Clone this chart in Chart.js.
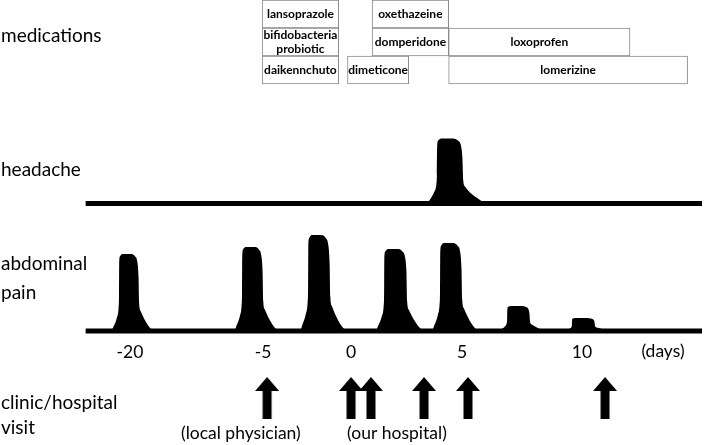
<!DOCTYPE html>
<html>
<head>
<meta charset="utf-8">
<script src="https://cdn.jsdelivr.net/npm/chart.js@4.4.1/dist/chart.umd.min.js"></script>
<style>
html, body { margin: 0; padding: 0; background: #fff; }
</style>
</head>
<body>
<canvas id="timeline" width="708" height="445"></canvas>
<script>
// day axis (day 0 = first visit to our hospital); the figure is not to scale
var tickDays = [-20, -5, 0, 5, 10];
var tickLabels = ['-20', '-5', '0', '5', '10'];
var dayRange = [-25, 15];

// medications: name, first day, last day, row (0 = top)
var medNames = ['lansoprazole', 'bifidobacteria\nprobiotic', 'daikennchuto', 'oxethazeine', 'domperidone', 'dimeticone', 'loxoprofen', 'lomerizine'];
var medStart = [-5.1, -5.1, -5.1, 0.95, 0.95, -0.2, 4.4, 4.4];
var medEnd = [-0.7, -0.7, -0.7, 4.4, 4.4, 2.6, 12.0, 14.4];
var medRow = [0, 1, 2, 0, 1, 2, 1, 2];

// headache episodes: onset, end, severity (arbitrary units)
var headacheOnset = [3.87];
var headacheEnd = [5.04];
var headacheLevel = [6.5];

// abdominal pain episodes
var painOnset = [-21.24, -7.37, -2.44, 1.49, 4.01, 6.88, 9.58];
var painEnd = [-18.99, -5.0, -1.19, 2.52, 5.0, 7.83, 10.54];
var painLevel = [7.7, 8.4, 9.6, 8.2, 8.8, 2.5, 1.3];

// clinic / hospital visits
var visitDays = [-4.77, 0, 0.9, 3.29, 5.25, 10.96];
var visitNotes = ['(local physician)', '(our hospital)'];
var visitNoteDays = [-7.5, 2.07];

var rowTitles = ['medications', 'headache', 'abdominal\npain', 'clinic/hospital\nvisit'];

// ---- layout ----
// where each tick day sits across the width (the original axis is broken)
var TICK_POS = [0.1836, 0.3715, 0.4958, 0.6525, 0.822];
// text baseline of each line of the row titles
var TITLE_BASELINE = [[42], [176], [270, 299], [409, 434]];
// outline of one episode: [fraction of episode width, fraction of severity]
var EPISODE_SHAPE = [[-0.38, 0], [-0.25, 0.07], [-0.1, 0.18], [-0.02, 0.3], [0, 0.45], [0.01, 0.88],
  [0.05, 0.97], [0.17, 1], [0.57, 1], [0.8, 0.97], [0.93, 0.88], [0.98, 0.7], [1.01, 0.36],
  [1.08, 0.26], [1.83, 0]];

function segmentIndex(list, v) {
    var i = 0;
    while (i < list.length - 2 && v > list[i + 1]) i++;
    return i;
}

function dayToPos(d) {
    var i = segmentIndex(tickDays, d);
    return TICK_POS[i] + (d - tickDays[i]) / (tickDays[i + 1] - tickDays[i]) * (TICK_POS[i + 1] - TICK_POS[i]);
}

function posToDay(p) {
    var i = segmentIndex(TICK_POS, p);
    return tickDays[i] + (p - TICK_POS[i]) / (TICK_POS[i + 1] - TICK_POS[i]) * (tickDays[i + 1] - tickDays[i]);
}

class BrokenDayScale extends Chart.LinearScale {
    getPixelForValue(value) {
        return this.left + dayToPos(value) * this.width;
    }
    getValueForPixel(pixel) {
        return posToDay((pixel - this.left) / this.width);
    }
}
BrokenDayScale.id = 'brokenDay';
BrokenDayScale.defaults = {};
Chart.register(BrokenDayScale);

function episodeOutline(onsets, ends, levels) {
    var pts = [];
    onsets.forEach(function (on, i) {
        var a = dayToPos(on), b = dayToPos(ends[i]);
        EPISODE_SHAPE.forEach(function (s) {
            pts.push({x: posToDay(a + s[0] * (b - a)), y: s[1] * levels[i]});
        });
    });
    return pts;
}

function baseline() {
    return [{x: dayRange[0], y: 0}, {x: dayRange[1], y: 0}];
}

function arrowGlyph() {
    var c = document.createElement('canvas');
    c.width = 24; c.height = 42;
    var g = c.getContext('2d');
    g.fillStyle = '#000';
    g.beginPath();
    g.moveTo(12, 0); g.lineTo(24, 14); g.lineTo(16.5, 14); g.lineTo(16.5, 42);
    g.lineTo(7.5, 42); g.lineTo(7.5, 14); g.lineTo(0, 14);
    g.closePath();
    g.fill();
    return c;
}

var medData = medNames.map(function (n, i) {
    return {x: [medStart[i], medEnd[i]], y: medRow[i]};
});

var figureText = {
    id: 'figureText',
    afterDatasetsDraw: function (chart) {
        var ctx = chart.ctx, x = chart.scales.x;
        ctx.save();
        ctx.fillStyle = '#000';
        ctx.textAlign = 'center';
        ctx.textBaseline = 'middle';

        // drug names in their boxes
        ctx.font = 'bold 12px Lato';
        chart.getDatasetMeta(0).data.forEach(function (bar, i) {
            var lines = medNames[i].split('\n');
            lines.forEach(function (ln, j) {
                ctx.fillText(ln, (bar.x + bar.base) / 2, bar.y + (j - (lines.length - 1) / 2) * 14);
            });
        });

        // who saw the patient, under the arrows
        ctx.font = '17.5px Lato';
        visitNotes.forEach(function (t, i) {
            ctx.fillText(t, x.getPixelForValue(visitNoteDays[i]), 433);
        });
        ctx.fillText('(days)', x.right - 45, 351);

        // row titles on the left
        ctx.textAlign = 'left';
        ctx.textBaseline = 'alphabetic';
        ctx.font = '19px Lato';
        rowTitles.forEach(function (t, i) {
            t.split('\n').forEach(function (ln, j) {
                ctx.fillText(ln, 1, TITLE_BASELINE[i][j]);
            });
        });
        ctx.restore();
    }
};

var ctx = document.getElementById('timeline').getContext('2d');
var config = {
    type: 'line',
    data: {
        datasets: [{
            type: 'bar',
            indexAxis: 'y',
            xAxisID: 'x',
            yAxisID: 'med',
            data: medData,
            backgroundColor: '#ffffff',
            borderColor: '#8a8a8a',
            borderWidth: 1,
            borderSkipped: false,
            barThickness: 28
        }, {
            yAxisID: 'head',
            data: episodeOutline(headacheOnset, headacheEnd, headacheLevel),
            borderWidth: 0,
            pointRadius: 0,
            fill: 'origin',
            backgroundColor: '#000',
            cubicInterpolationMode: 'monotone'
        }, {
            yAxisID: 'head',
            data: baseline(),
            borderColor: '#000',
            borderWidth: 5,
            pointRadius: 0
        }, {
            yAxisID: 'pain',
            data: episodeOutline(painOnset, painEnd, painLevel),
            borderWidth: 0,
            pointRadius: 0,
            fill: 'origin',
            backgroundColor: '#000',
            cubicInterpolationMode: 'monotone'
        }, {
            yAxisID: 'pain',
            data: baseline(),
            borderColor: '#000',
            borderWidth: 5,
            pointRadius: 0
        }, {
            yAxisID: 'visit',
            data: visitDays.map(function (d) { return {x: d, y: 0}; }),
            showLine: false,
            pointStyle: arrowGlyph(),
            pointRadius: 5
        }]
    },
    options: {
        responsive: false,
        animation: false,
        events: [],
        layout: {padding: 0, autoPadding: false},
        plugins: {legend: {display: false}, tooltip: {enabled: false}},
        scales: {
            x: {
                type: 'brokenDay',
                axis: 'x',
                min: dayRange[0],
                max: dayRange[1],
                position: {pain: 0},
                afterBuildTicks: function (s) {
                    s.ticks = tickDays.map(function (v) { return {value: v}; });
                },
                afterFit: function (s) {
                    s.paddingLeft = 0;
                    s.paddingRight = 0;
                },
                ticks: {
                    callback: function (v, i) { return tickLabels[i]; },
                    autoSkip: false,
                    maxRotation: 0,
                    padding: 11,
                    color: '#000',
                    font: {family: 'Lato', size: 17.5}
                },
                grid: {display: false, drawTicks: false},
                border: {display: false}
            },
            med: {axis: 'y', type: 'linear', display: false, reverse: true, offset: false, min: -0.5, max: 15.393},
            head: {axis: 'y', type: 'linear', display: false, min: -24.15, max: 20.35},
            pain: {axis: 'y', type: 'linear', display: false, min: -11.4, max: 33.1},
            visit: {axis: 'y', type: 'linear', display: false, min: -0.5, max: 4.23}
        }
    },
    plugins: [figureText]
};
var myChart = new Chart(ctx, config);
</script>
</body>
</html>
